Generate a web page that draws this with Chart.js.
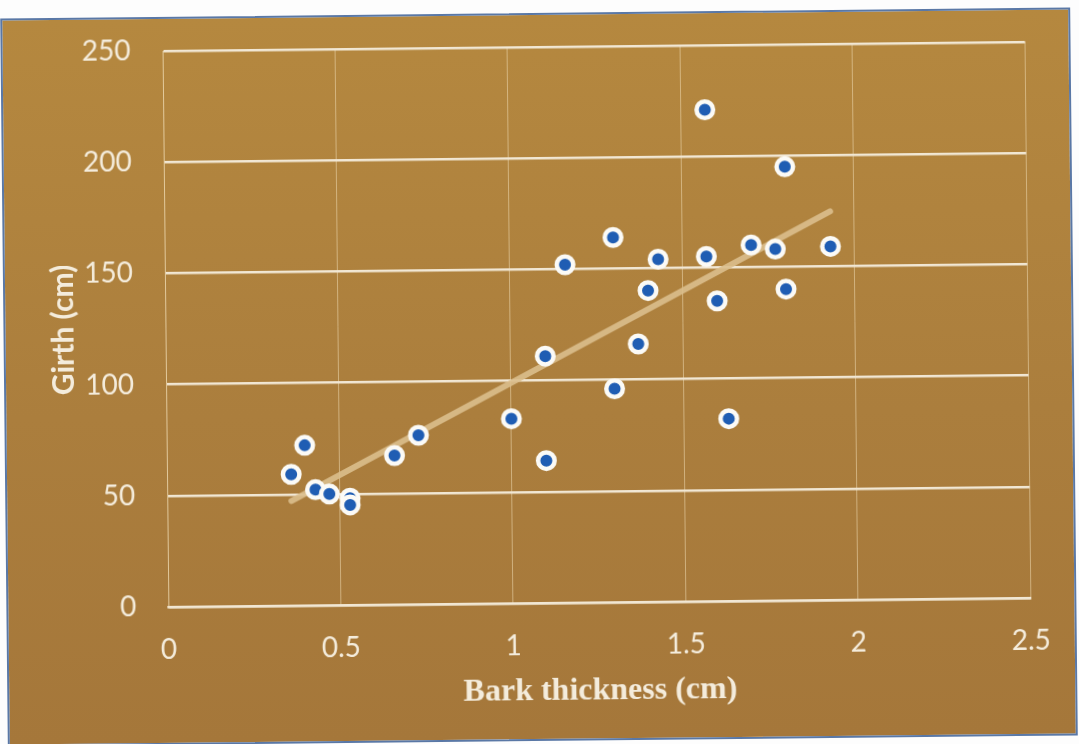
<!DOCTYPE html>
<html>
<head>
<meta charset="utf-8">
<title>Girth vs bark thickness</title>
<script src="https://cdn.jsdelivr.net/npm/chart.js@4.4.1/dist/chart.umd.min.js"></script>
<style>
  body { margin: 0; background: #fdfdfd; overflow: hidden; }
  #card {
    position: absolute;
    left: 4px;
    top: 13px;
    width: 1070px;
    height: 728px;
    box-sizing: border-box;
    border: 2px solid #5a78a6;
    background: linear-gradient(#b5883f, #ab7e3d 55%, #a5773a);
    transform: rotate(-0.6deg);
    transform-origin: center;
  }
  #scatter { position: absolute; left: -2px; top: -2px; }
</style>
</head>
<body>
<div id="card">
  <canvas id="scatter" width="1070" height="728"></canvas>
</div>
<script>
// Bark thickness (cm) and girth (cm) of each tree
const barkThickness = [0.36, 0.40, 0.43, 0.47, 0.53, 0.53, 0.66, 0.73, 1.00, 1.10, 1.10, 1.16, 1.30,
                       1.30, 1.37, 1.40, 1.43, 1.57, 1.57, 1.60, 1.63, 1.70, 1.77, 1.80, 1.80, 1.93];
const girth = [59, 72, 52, 50, 48, 45, 67, 76, 83, 64, 111, 152, 164,
               96, 116, 140, 154, 221, 155, 135, 82, 160, 158, 195, 140, 159];

const xTicks = [0, 0.5, 1, 1.5, 2, 2.5];
const yTicks = [0, 50, 100, 150, 200, 250];

const points = barkThickness.map((x, i) => ({ x: x, y: girth[i] }));

// Linear trend line (least squares) across the range of the data
function trendLine(xs, ys) {
    const n = xs.length;
    const mx = xs.reduce((a, b) => a + b, 0) / n;
    const my = ys.reduce((a, b) => a + b, 0) / n;
    let sxy = 0, sxx = 0;
    for (let i = 0; i < n; i++) {
        sxy += (xs[i] - mx) * (ys[i] - my);
        sxx += (xs[i] - mx) * (xs[i] - mx);
    }
    const slope = sxy / sxx;
    const icpt = my - slope * mx;
    const x0 = Math.min(...xs), x1 = Math.max(...xs);
    return [{ x: x0, y: icpt + slope * x0 }, { x: x1, y: icpt + slope * x1 }];
}

const labelColor = '#f4ecdc';

new Chart(document.getElementById('scatter'), {
    type: 'scatter',
    data: {
        datasets: [{
            label: 'Girth',
            data: points,
            order: 1,
            pointRadius: 8.25,
            pointHoverRadius: 8.25,
            pointBorderWidth: 4.5,
            pointBorderColor: '#fbfaf6',
            pointBackgroundColor: '#1f5db3'
        }, {
            type: 'line',
            label: 'Trend',
            data: trendLine(barkThickness, girth),
            order: 2,
            showLine: true,
            borderColor: 'rgba(218, 190, 140, 0.9)',
            borderWidth: 6,
            borderCapStyle: 'round',
            pointRadius: 0,
            fill: false
        }]
    },
    options: {
        responsive: false,
        animation: false,
        layout: { padding: { top: 34, right: 44, bottom: 0, left: 0 } },
        plugins: {
            legend: { display: false },
            tooltip: { enabled: false }
        },
        scales: {
            x: {
                type: 'linear',
                min: 0,
                max: 2.5,
                afterFit: function(scale) { scale.height = 138; },
                afterBuildTicks: function(scale) { scale.ticks = xTicks.map(v => ({ value: v })); },
                grid: {
                    color: 'rgba(238, 218, 178, 0.55)',
                    lineWidth: 1,
                    drawTicks: false
                },
                border: { display: true, color: '#f1e7d4', width: 2.5 },
                ticks: {
                    color: labelColor,
                    padding: 26,
                    font: { family: 'Lato', size: 28 },
                    callback: function(value) { return String(value); }
                },
                title: {
                    display: true,
                    text: 'Bark thickness (cm)',
                    color: labelColor,
                    padding: { bottom: 30 },
                    font: { family: 'Liberation Serif', size: 32, weight: 'bold' }
                }
            },
            y: {
                type: 'linear',
                min: 0,
                max: 250,
                afterFit: function(scale) {
                    scale.width = 162;
                    // tick padding should not push the plot area down
                    scale.paddingTop = 0;
                    scale.paddingBottom = 0;
                },
                afterBuildTicks: function(scale) { scale.ticks = yTicks.map(v => ({ value: v })); },
                grid: {
                    color: '#f1e7d4',
                    lineWidth: 2.5,
                    drawTicks: false
                },
                border: { display: true, color: 'rgba(238, 218, 178, 0.55)', width: 1 },
                ticks: {
                    color: labelColor,
                    padding: 32,
                    font: { family: 'Lato', size: 28 }
                },
                title: {
                    display: true,
                    text: 'Girth (cm)',
                    color: labelColor,
                    padding: { top: 42 },
                    font: { family: 'Lato', size: 30, weight: 'bold' }
                }
            }
        }
    }
});
</script>
</body>
</html>
